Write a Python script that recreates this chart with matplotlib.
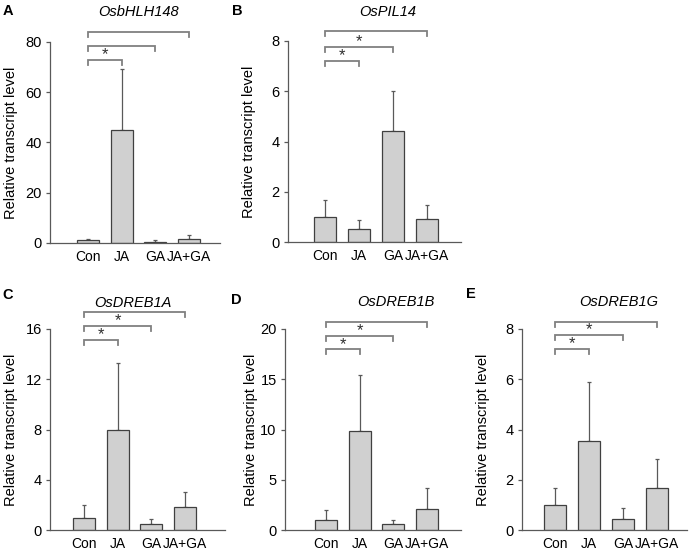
import numpy as np
import matplotlib
matplotlib.use('Agg')
import matplotlib.pyplot as plt

plt.rcParams['font.family'] = ['Liberation Sans', 'DejaVu Sans']

W, H = 691, 555

categories = ['Con', 'JA', 'GA', 'JA+GA']

# mean values and upper error (SD)
bhlh148_mean = [1.05, 45.0, 0.5, 1.6]
bhlh148_err = [0.65, 24.4, 0.55, 1.7]
pil14_mean = [0.99, 0.53, 4.4, 0.9]
pil14_err = [0.69, 0.33, 1.62, 0.59]
dreb1a_mean = [0.98, 7.96, 0.45, 1.83]
dreb1a_err = [1.01, 5.3, 0.45, 1.22]
dreb1b_mean = [1.0, 9.88, 0.63, 2.12]
dreb1b_err = [1.0, 5.52, 0.37, 2.08]
dreb1g_mean = [0.99, 3.53, 0.45, 1.68]
dreb1g_err = [0.67, 2.36, 0.44, 1.13]

# which comparisons (Con vs JA, GA, JA+GA) carry a star
stars_a = [True, False, False]
stars_other = [True, True, False]

panels = [
    # letter, gene, mean, err, ymax, yticks, axes box px (l, r, top, bottom), xlim,
    # bracket y (axes frac), stars, letter pos px, title pos px, ylabel x px
    ('A', 'OsbHLH148', bhlh148_mean, bhlh148_err, 80, [0, 20, 40, 60, 80],
     (50, 220, 42, 243), (-1.13, 3.92), [0.91, 0.98, 1.05], stars_a,
     (3, 11), (139, 12), 18),
    ('B', 'OsPIL14', pil14_mean, pil14_err, 8, [0, 2, 4, 6, 8],
     (288, 461, 41, 242), (-1.09, 3.99), [0.90, 0.97, 1.048], stars_other,
     (232, 11), (388, 12), 256),
    ('C', 'OsDREB1A', dreb1a_mean, dreb1a_err, 16, [0, 4, 8, 12, 16],
     (50, 225, 329, 530), (-1.01, 4.19), [0.945, 1.015, 1.085], stars_other,
     (2, 295), (133, 303), 18),
    ('D', 'OsDREB1B', dreb1b_mean, dreb1b_err, 20, [0, 5, 10, 15, 20],
     (285, 461, 329, 530), (-1.22, 4.01), [0.899, 0.967, 1.036], stars_other,
     (231, 300), (396, 302), 258),
    ('E', 'OsDREB1G', dreb1g_mean, dreb1g_err, 8, [0, 2, 4, 6, 8],
     (522, 687, 329, 530), (-0.97, 3.88), [0.90, 0.97, 1.036], stars_other,
     (466, 294), (619, 302), 490),
]

axis_col = '#595959'
br_col = '#808080'

fig = plt.figure(figsize=(W / 100, H / 100), dpi=100)

for letter, gene, mean, err, ymax, yt, box, xl, br_y, stars, lpos, tpos, lab_x in panels:
    l, r, t, b = box
    ax = fig.add_axes([l / W, 1 - b / H, (r - l) / W, (b - t) / H])
    x = np.arange(len(categories))
    ax.bar(x, mean, width=0.65, color='#d0d0d0', edgecolor='#404040', linewidth=0.9, zorder=2)
    ax.errorbar(x, mean, yerr=[[0] * len(err), err], fmt='none', ecolor=axis_col,
                elinewidth=0.9, capsize=1.5, capthick=0.9, zorder=1)
    ax.set_xlim(*xl)
    ax.set_ylim(0, ymax)
    ax.set_yticks(yt)
    ax.set_xticks(x)
    ax.set_xticklabels(categories, fontsize=10)
    ax.tick_params(axis='x', length=0, pad=5)
    ax.tick_params(axis='y', length=3, width=0.9, color=axis_col, labelsize=10.5, pad=3)
    for s in ['top', 'right']:
        ax.spines[s].set_visible(False)
    for s in ['left', 'bottom']:
        ax.spines[s].set_color(axis_col)
        ax.spines[s].set_linewidth(0.9)
    ax.set_ylabel('Relative transcript level', fontsize=10.5)
    ax.yaxis.set_label_coords(lab_x / W, 1 - (t + b) / 2 / H, transform=fig.transFigure)

    # significance brackets
    trans = ax.get_xaxis_transform()
    for k, target in enumerate([1, 2, 3]):
        yb = br_y[k]
        tick = 0.025
        ax.plot([0, 0, target, target], [yb - tick, yb, yb, yb - tick], color=br_col,
                lw=1.3, transform=trans, clip_on=False, solid_joinstyle='miter')
        if stars[k]:
            ax.text(target / 2, yb - 0.012, '*', transform=trans, ha='center', va='bottom',
                    fontsize=12, color='#303030')

    fig.text(lpos[0] / W, 1 - lpos[1] / H, letter, fontsize=10.5, fontweight='bold',
             ha='left', va='center')
    fig.text(tpos[0] / W, 1 - tpos[1] / H, gene, fontsize=10.5, style='italic',
             ha='center', va='center')

fig.savefig('out.png', dpi=100)
